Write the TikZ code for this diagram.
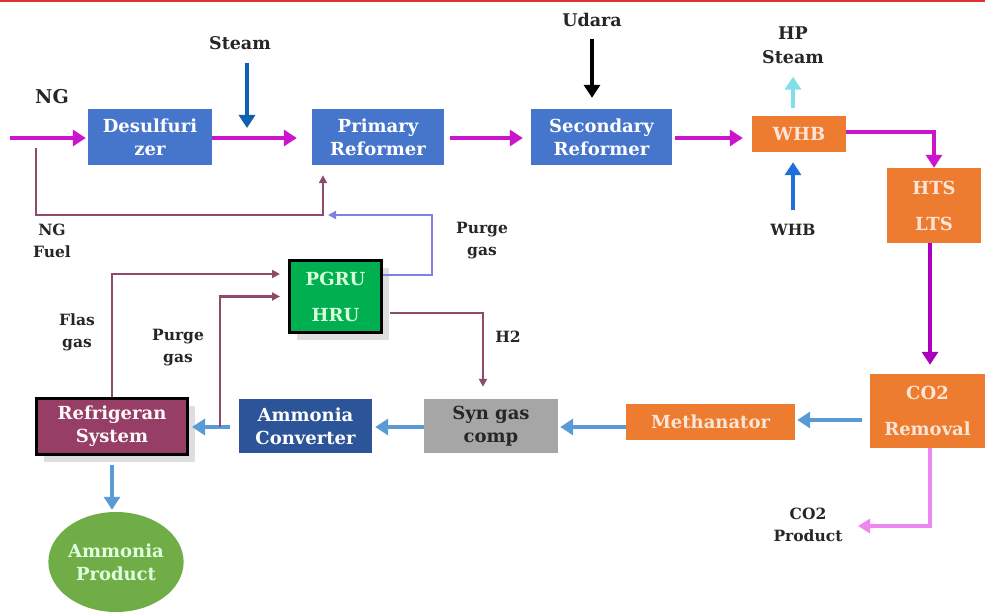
\documentclass[tikz,border=0pt]{standalone}
\usepackage{fontspec}
\setmainfont{DejaVu Serif}
\usetikzlibrary{arrows.meta,shapes.geometric,shadows}
\definecolor{boxblue}{RGB}{70,118,204}
\definecolor{darkblue}{RGB}{44,84,152}
\definecolor{boxorange}{RGB}{238,124,48}
\definecolor{boxgray}{RGB}{166,166,166}
\definecolor{boxgreen}{RGB}{0,176,80}
\definecolor{boxmaroon}{RGB}{150,62,102}
\definecolor{prodgreen}{RGB}{112,173,71}
\definecolor{magflow}{RGB}{204,20,204}
\definecolor{purpflow}{RGB}{170,0,190}
\definecolor{lblue}{RGB}{91,155,213}
\definecolor{steamblue}{RGB}{16,96,176}
\definecolor{whbblue}{RGB}{30,111,217}
\definecolor{cyanflow}{RGB}{128,224,232}
\definecolor{maroonline}{RGB}{142,74,106}
\definecolor{lavline}{RGB}{128,128,224}
\definecolor{pinkflow}{RGB}{238,136,238}
\definecolor{topred}{RGB}{224,48,48}
\definecolor{peach}{RGB}{251,229,214}
\begin{document}
\begin{tikzpicture}[x=1pt,y=-1pt,
  boxtext/.style={font=\fontsize{18}{23}\selectfont\bfseries, align=center, inner sep=0pt},
  unit/.style={boxtext, rectangle, draw=none, text=white},
  bluebox/.style={unit, fill=boxblue},
  orangebox/.style={unit, fill=boxorange, text=peach},
  shadowed/.style={drop shadow={shadow xshift=7pt, shadow yshift=-7pt, fill=black!13, opacity=1}},
  lbl/.style={font=\fontsize{15.5}{22}\selectfont\bfseries, align=center, inner sep=0pt, text=black!85},
  biglbl/.style={font=\fontsize{17.5}{24}\selectfont\bfseries, align=center, inner sep=0pt, text=black!85},
  bigtip/.style={-{Triangle[length=13pt,width=16pt]}},
  smalltip/.style={-{Triangle[length=8pt,width=8pt]}},
  magarrow/.style={draw=magflow, line width=4pt, bigtip},
  bluearrow/.style={draw=lblue, line width=4pt, bigtip},
  thinline/.style={draw=maroonline, line width=2.2pt, smalltip},
]
\useasboundingbox (0,0) rectangle (985,615);
\fill[white] (0,0) rectangle (985,615);
\fill[topred] (0,0) rectangle (985,2.5);

% units
\node[bluebox, minimum width=124pt, minimum height=56pt] (desulf) at (150,137) {Desulfuri\\zer};
\node[bluebox, minimum width=132pt, minimum height=56pt] (primary) at (378,137) {Primary\\Reformer};
\node[bluebox, minimum width=141pt, minimum height=56pt] (secondary) at (601.5,137) {Secondary\\Reformer};
\node[orangebox, minimum width=94pt, minimum height=36pt] (whb) at (799,134) {WHB};
\node[orangebox, minimum width=94pt, minimum height=75pt] (hts) at (934,205.5) {HTS\\[13pt]LTS};
\node[orangebox, minimum width=115pt, minimum height=74pt] (co2) at (927.5,411) {CO2\\[13pt]Removal};
\node[orangebox, minimum width=169pt, minimum height=36pt] (meth) at (710.5,422) {Methanator};
\node[unit, fill=boxgray, text=black!85, minimum width=134pt, minimum height=54pt] (syn) at (491,426) {Syn gas\\comp};
\node[unit, fill=darkblue, minimum width=133pt, minimum height=54pt] (conv) at (305.5,426) {Ammonia\\Converter};
\node[unit, shadowed, fill=boxmaroon, draw=black, line width=3pt, text=white!92!pink, minimum width=151pt, minimum height=56pt] (refrig) at (112,426.5) {Refrigeran\\System};
\node[unit, shadowed, fill=boxgreen, draw=black, line width=3pt, text=white!85!green, minimum width=92pt, minimum height=72pt] (pgru) at (335.5,296.5) {PGRU\\[13pt]HRU};
\node[boxtext, ellipse, fill=prodgreen, text=white!88!green, minimum width=128pt, minimum height=100pt] (product) at (116,562) {Ammonia\\Product};

% labels
\node[biglbl] (nglbl) at (52,97) {\fontsize{19}{24}\selectfont NG};
\node[biglbl] (steamlbl) at (240,43) {Steam};
\node[biglbl] (udaralbl) at (592,20) {Udara};
\node[biglbl] (hplbl) at (793,45) {HP\\Steam};
\node[lbl] (whblbl) at (793,230) {WHB};
\node[lbl] (fuellbl) at (52,241) {NG\\Fuel};
\node[lbl] (purgelbl) at (482,241) {Purge\\gas};
\node[lbl] (flaslbl) at (77,332) {Flas\\gas};
\node[lbl] (purgelbl2) at (178,348) {Purge\\gas};
\node[lbl] (h2lbl) at (508,337) {H2};
\node[lbl] (co2plbl) at (808,525) {CO2\\Product};

% free ends
\coordinate (ngstart) at (10,138);
\coordinate (ngsplit) at (36,148);
\coordinate (fueljoin) at (323,215);
\coordinate (purgeturn) at (432,215);
\coordinate (purgeend) at (328,215);
\coordinate (purgelow) at (220,427);
\coordinate (co2pend) at (858,526);

% main line
\draw[magarrow, shorten >=2pt] (ngstart) -- (ngstart -| desulf.west);
\draw[magarrow, shorten >=15pt] (desulf.east |- ngstart) -- (primary.west |- ngstart);
\draw[magarrow, shorten <=6pt, shorten >=8pt] (primary.east |- ngstart) -- (secondary.west |- ngstart);
\draw[magarrow, shorten <=3pt, shorten >=9pt] (secondary.east |- ngstart) -- (whb.west |- ngstart);
\draw[magarrow] (whb.east |- 0,132) -| (hts.north);
\draw[draw=purpflow, line width=4pt, bigtip, shorten >=9pt] ([xshift=-4pt]hts.south) -- ([xshift=-4pt]hts.south |- co2.north);

% side inputs
\draw[draw=steamblue, line width=4pt, bigtip, shorten <=13pt] (steamlbl.south -| 247,0) -- (247,128);
\draw[draw=black, line width=4pt, bigtip, shorten <=12pt, shorten >=11pt] (udaralbl.south) -- (secondary.north -| udaralbl.south);
\draw[draw=cyanflow, line width=4pt, bigtip, shorten <=8pt, shorten >=13pt] (whb.north -| hplbl.south) -- (hplbl.south);
\draw[draw=whbblue, line width=4pt, bigtip, shorten <=14pt, shorten >=10pt] (whblbl.north) -- (whb.south -| whblbl.north);

% lower line
\draw[bluearrow, shorten <=8pt, shorten >=2pt] (co2.west |- 0,420) -- (meth.east |- 0,420);
\draw[bluearrow, shorten >=2pt] (meth.west |- 0,427) -- (syn.east |- 0,427);
\draw[bluearrow, shorten >=3pt] (syn.west |- 0,427) -- (conv.east |- 0,427);
\draw[bluearrow, shorten <=9pt, shorten >=3pt] (conv.west |- 0,427) -- (refrig.east |- 0,427);
\draw[bluearrow, shorten <=9pt, shorten >=2pt] (refrig.south) -- (refrig.south |- product.north);
\draw[draw=pinkflow, line width=4pt, -{Triangle[length=12pt,width=14pt]}] (co2.south -| 930,0) |- (co2pend);

% recycle lines
\draw[thinline, shorten >=10pt] (ngsplit) |- (fueljoin) -- (fueljoin |- primary.south);
\draw[draw=lavline, line width=2.2pt, smalltip] ([yshift=21.5pt]pgru.east) -| (purgeturn) -- (purgeend);
\draw[thinline, shorten >=8pt] (refrig.north) |- ([yshift=22.5pt]pgru.west);
\draw[thinline, shorten >=8pt] (purgelow) |- (pgru.west);
\draw[thinline, shorten >=12pt] ([yshift=-16.5pt,xshift=7pt]pgru.east) -| ([xshift=-8pt]syn.north);
\end{tikzpicture}
\end{document}
